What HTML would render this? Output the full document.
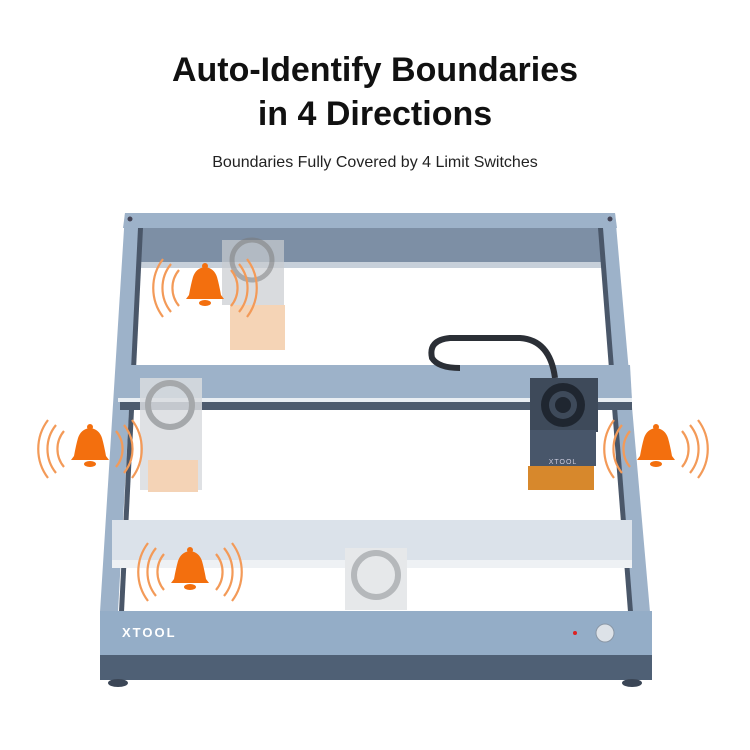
<!DOCTYPE html>
<html><head><style>
body{margin:0;width:750px;height:750px;background:#fff;overflow:hidden;font-family:"Liberation Sans",sans-serif}
h1{position:absolute;top:48px;left:0;width:750px;text-align:center;margin:0;font-size:34px;line-height:44px;font-weight:bold;color:#111}
p{position:absolute;top:154px;left:0;width:750px;text-align:center;margin:0;font-size:16px;color:#222}
svg{position:absolute;left:0;top:0}
</style></head><body>
<h1>Auto-Identify Boundaries<br>in 4 Directions</h1>
<p>Boundaries Fully Covered by 4 Limit Switches</p>
<svg width="750" height="750" viewBox="0 0 750 750">
<defs>
<g id="bell">
<path d="M-16 9 Q-14 -2 -12 -9 Q-9 -18 0 -19 Q9 -18 12 -9 Q14 -2 16 9 L19 13 L-19 13 Z" fill="#f36f0e"/>
<circle cx="0" cy="-20" r="3" fill="#f36f0e"/>
<ellipse cx="0" cy="17" rx="6" ry="3" fill="#f36f0e"/>
<g fill="none" stroke="#f39a58" stroke-width="2.2">
<path d="M-26 -16 A28 28 0 0 0 -26 20"/><path d="M-34 -22 A38 38 0 0 0 -34 26"/><path d="M-42 -27 A48 48 0 0 0 -42 31"/>
<path d="M26 -16 A28 28 0 0 1 26 20"/><path d="M34 -22 A38 38 0 0 1 34 26"/><path d="M42 -27 A48 48 0 0 1 42 31"/>
</g></g>
</defs>
<rect x="138" y="228" width="467" height="38" fill="#7d8fa5"/>
<rect x="138" y="262" width="467" height="6" fill="#c7d0da"/>
<polygon points="125,213 615,213 617,228 123,228" fill="#9db2c9"/>
<polygon points="125,213 140,213 118,612 100,612" fill="#9db2c9"/>
<polygon points="600,213 615,213 650,612 632,612" fill="#9db2c9"/>
<polygon points="138,228 143,228 124,612 119,612" fill="#4a5769"/>
<polygon points="598,228 603,228 633,612 628,612" fill="#4a5769"/>
<rect x="222" y="240" width="62" height="65" fill="#c9ccd0" opacity=".7"/>
<circle cx="252" cy="260" r="20" fill="none" stroke="#777" stroke-width="5" opacity=".5"/>
<rect x="230" y="305" width="55" height="45" fill="#f2c9a4" opacity=".8"/>
<polygon points="122,365 630,365 632,400 118,400" fill="#9db2c9"/>
<rect x="118" y="398" width="514" height="4" fill="#e9eef3"/>
<rect x="120" y="402" width="512" height="8" fill="#4d5b6e"/>
<path d="M555 378 Q550 340 520 338 L450 338 Q428 340 432 358 Q438 368 460 368" fill="none" stroke="#2b2f36" stroke-width="6"/>
<rect x="140" y="378" width="62" height="112" fill="#d9dcdf" opacity=".85"/>
<circle cx="170" cy="405" r="22" fill="none" stroke="#a5a8ab" stroke-width="6"/>
<rect x="148" y="460" width="50" height="32" fill="#f4d3b6"/>
<rect x="530" y="378" width="68" height="54" fill="#3e4a5a"/>
<circle cx="563" cy="405" r="22" fill="#1f2630"/><circle cx="563" cy="405" r="14" fill="#3e4a5a"/><circle cx="563" cy="405" r="8" fill="#1f2630"/>
<rect x="530" y="430" width="66" height="36" fill="#48566a"/>
<text x="563" y="464" font-size="7" fill="#ccd" text-anchor="middle" letter-spacing="1">XTOOL</text>
<rect x="528" y="466" width="66" height="24" fill="#d7882c"/>
<rect x="112" y="520" width="520" height="40" fill="#dbe2ea"/>
<rect x="112" y="560" width="520" height="8" fill="#eef1f4"/>
<rect x="345" y="548" width="62" height="62" fill="#e6e8ea"/>
<circle cx="376" cy="575" r="22" fill="none" stroke="#b5b8bb" stroke-width="6"/>
<rect x="100" y="611" width="552" height="44" fill="#94adc7"/>
<rect x="100" y="655" width="552" height="25" fill="#4f6075"/>
<ellipse cx="118" cy="683" rx="10" ry="4" fill="#3b4656"/>
<ellipse cx="632" cy="683" rx="10" ry="4" fill="#3b4656"/>
<text x="122" y="637" font-size="13" font-weight="bold" fill="#fff" letter-spacing="2">XTOOL</text>
<circle cx="575" cy="633" r="2" fill="#d22"/>
<circle cx="605" cy="633" r="9" fill="#dde2e8" stroke="#8a97a6"/>
<circle cx="130" cy="219" r="2.5" fill="#445"/><circle cx="610" cy="219" r="2.5" fill="#445"/>
<use href="#bell" x="205" y="286"/>
<use href="#bell" x="90" y="447"/>
<use href="#bell" x="656" y="447"/>
<use href="#bell" x="190" y="570"/>
</svg>
</body></html>
